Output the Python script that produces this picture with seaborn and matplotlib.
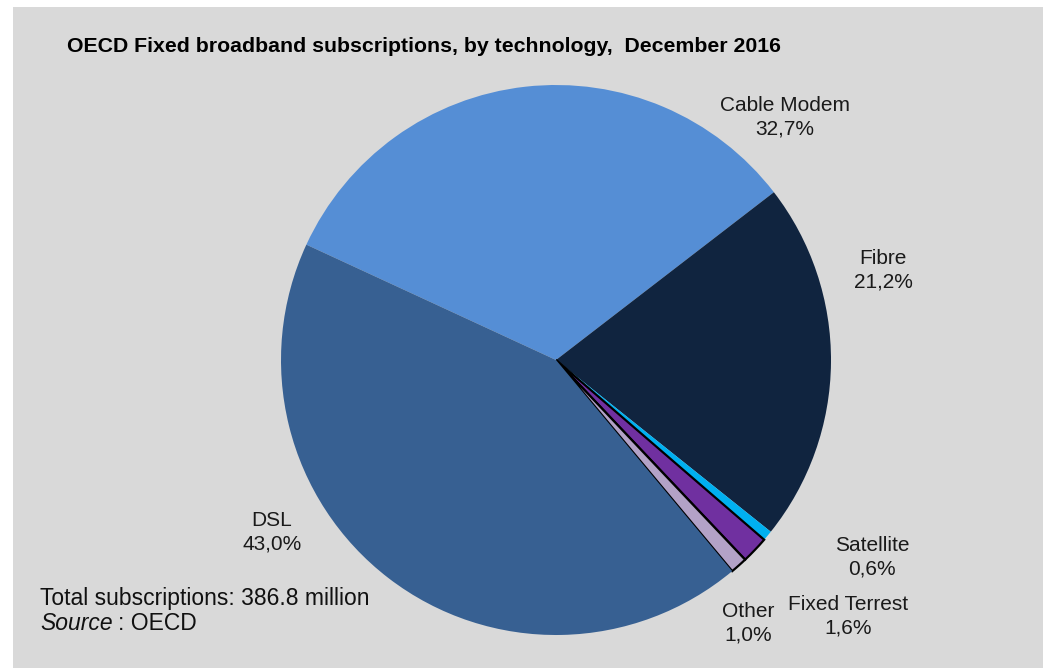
import matplotlib
matplotlib.use("Agg")
import matplotlib.pyplot as plt
import seaborn as sns
from matplotlib.patches import Rectangle

categories = ["Cable Modem", "Fibre", "Satellite", "Fixed Terrest", "Other", "DSL"]
shares = [32.7, 21.2, 0.6, 1.6, 1.0, 43.0]
share_labels = ["32,7%", "21,2%", "0,6%", "1,6%", "1,0%", "43,0%"]
colors = ["#558ed5", "#10243f", "#00b0f0", "#7030a0", "#b3a2c7", "#376092"]
edged = [False, False, False, True, True, False]

title = "OECD Fixed broadband subscriptions, by technology,  December 2016"
total_note = "Total subscriptions: 386.8 million"

sns.set_theme(style="white")
plt.rcParams["font.family"] = ["Liberation Sans", "DejaVu Sans"]

W, H = 1048, 668
fig = plt.figure(figsize=(W / 100, H / 100), dpi=100)
fig.patch.set_facecolor("white")
fig.add_artist(Rectangle((13 / W, 0), (1043 - 13) / W, (H - 7) / H,
                         transform=fig.transFigure, facecolor="#d9d9d9",
                         edgecolor="none", zorder=0))

cx, cy, r = 556, 360, 275
ax = fig.add_axes([(cx - r) / W, (H - cy - r) / H, 2 * r / W, 2 * r / H])
ax.set_facecolor("none")

wedges, texts = ax.pie(shares, colors=colors, startangle=155.2, counterclock=False,
                       radius=1, labels=[f"{c}\n{s}" for c, s in zip(categories, share_labels)],
                       textprops=dict(fontsize=15, color="#1a1a1a", ha="center", va="center",
                                      linespacing=1.3))
for w, e in zip(wedges, edged):
    if e:
        w.set_edgecolor("black")
        w.set_linewidth(1.6)
    else:
        w.set_edgecolor("none")

# label placement (pixel layout)
label_px = [(785, 117), (883, 270), (872, 557), (848, 616), (748, 623), (272, 532)]
for t, (px, py) in zip(texts, label_px):
    t.set_position(((px - cx) / r, (cy - py) / r))

ax.set_xlim(-1, 1)
ax.set_ylim(-1, 1)
ax.set_aspect("equal")
ax.axis("off")

fig.text(67 / W, 1 - 47 / H, title, fontsize=15.3, fontweight="bold", ha="left", va="center",
         color="black")
fig.text(40 / W, 1 - 598 / H, total_note, fontsize=16.5, ha="left", va="center", color="#111111")
fig.text(40 / W, 1 - 623 / H, "Source", fontsize=16.5, style="italic", ha="left", va="center",
         color="#111111")
fig.text(118 / W, 1 - 623 / H, ": OECD", fontsize=16.5, ha="left", va="center", color="#111111")

fig.savefig("out.png", dpi=100)
